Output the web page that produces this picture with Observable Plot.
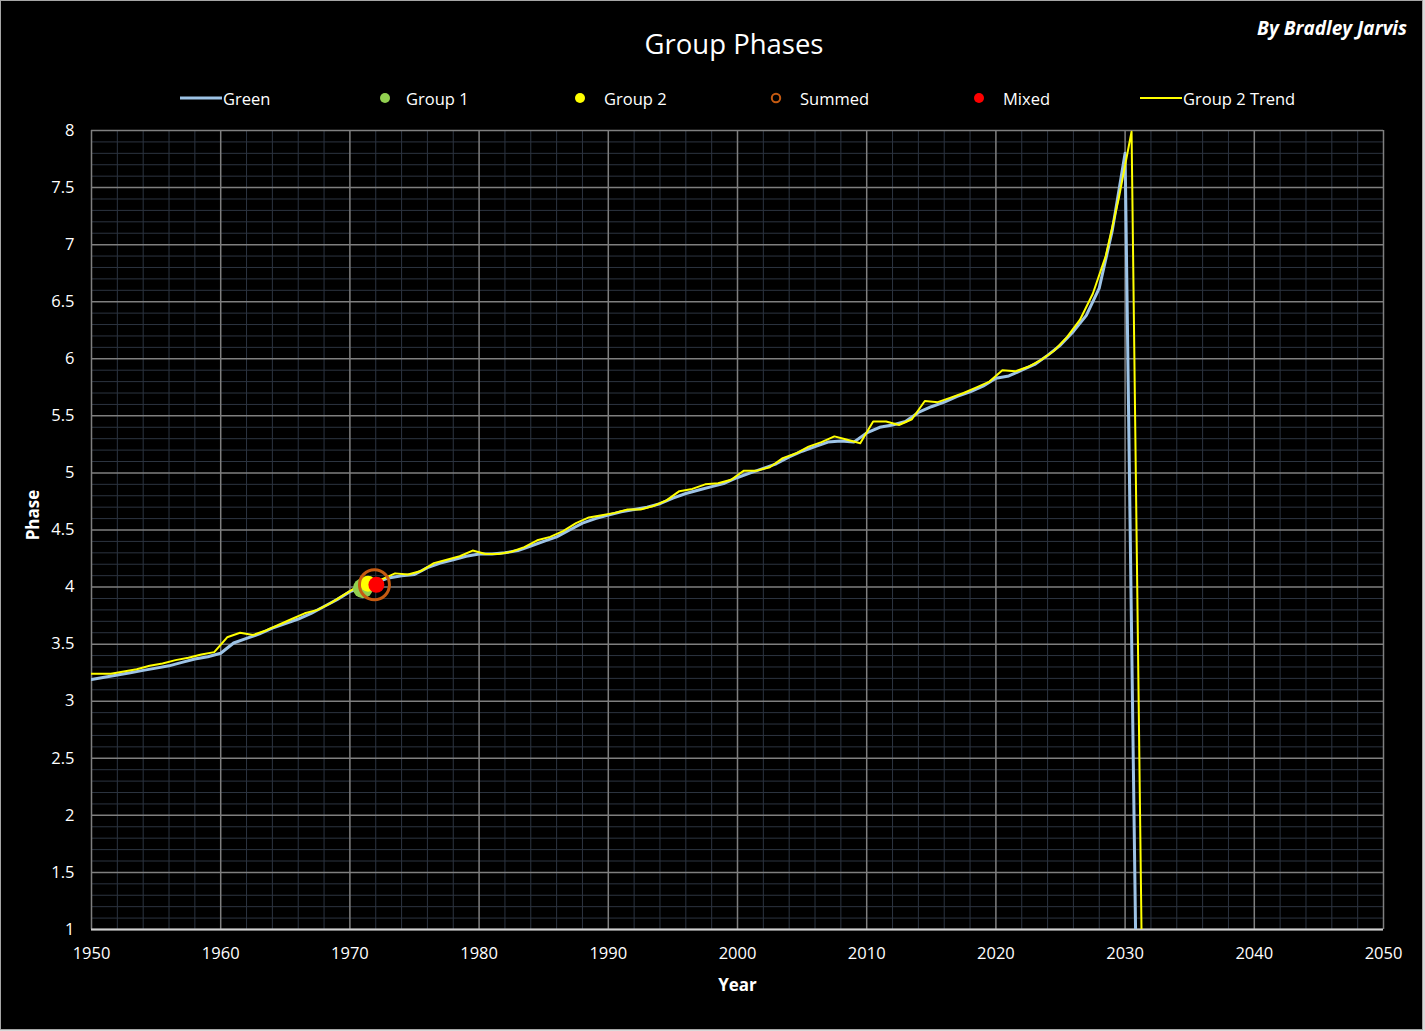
<!DOCTYPE html>
<html>
<head>
<meta charset="utf-8">
<script src="https://cdn.jsdelivr.net/npm/d3@7"></script>
<script src="https://cdn.jsdelivr.net/npm/@observablehq/plot@0.6"></script>
<style>
  html, body { margin: 0; padding: 0; background: #d9d9d9; }
  #wrap { position: relative; width: 1425px; height: 1031px; overflow: hidden; font-family: "Open Sans", sans-serif; color: #fff; }
  #chart { position: absolute; left: 0; top: 0; }
  #border { position: absolute; left: 0; top: 0; width: 1421px; height: 1028px; border: 1px solid #a6a6a6; pointer-events: none; }
  #title { position: absolute; left: 734px; top: 25px; transform: translateX(-50%); font-size: 27.5px; white-space: nowrap; line-height: 38px; }
  #byline { position: absolute; right: 18px; top: 15px; font-size: 19px; font-weight: bold; font-style: italic; white-space: nowrap; line-height: 26px; }
  .leg { position: absolute; top: 87px; height: 22px; display: flex; align-items: center; font-size: 16.5px; white-space: nowrap; }
  .leg svg { display: block; }
</style>
</head>
<body>
<div id="wrap">
  <div id="chart"></div>
  <div id="title">Group Phases</div>
  <div id="byline">By Bradley Jarvis</div>
  <div id="legend"></div>
  <div id="border"></div>
</div>
<script>
// ---- Data ----
const greenYears = d3.range(1950, 2032); // 1950..2031
const greenPhase = [
  3.19, 3.21, 3.23, 3.25, 3.27, 3.29, 3.31, 3.34, 3.37, 3.39,
  3.42, 3.51, 3.55, 3.59, 3.64, 3.68, 3.72, 3.77, 3.83, 3.89,
  3.96, 4.00, 4.04, 4.08, 4.10, 4.11, 4.17, 4.21, 4.24, 4.27,
  4.29, 4.29, 4.30, 4.32, 4.36, 4.40, 4.44, 4.50, 4.56, 4.60,
  4.63, 4.66, 4.68, 4.70, 4.73, 4.78, 4.82, 4.85, 4.88, 4.91,
  4.96, 5.00, 5.04, 5.08, 5.14, 5.19, 5.23, 5.27, 5.28, 5.27,
  5.35, 5.40, 5.42, 5.45, 5.53, 5.58, 5.62, 5.67, 5.71, 5.76,
  5.83, 5.85, 5.90, 5.95, 6.03, 6.12, 6.24, 6.38, 6.62, 7.12,
  7.80, -0.6
];
const trendYears = d3.range(1949.5, 2032, 1); // 1949.5..2031.5
const trendPhase = [
  3.24, 3.24, 3.24, 3.26, 3.28, 3.31, 3.33, 3.36, 3.38, 3.41,
  3.43, 3.56, 3.60, 3.58, 3.62, 3.67, 3.72, 3.77, 3.80, 3.86,
  3.93, 4.00, 4.03, 4.07, 4.12, 4.11, 4.14, 4.21, 4.24, 4.27,
  4.32, 4.29, 4.29, 4.31, 4.35, 4.41, 4.44, 4.49, 4.56, 4.61,
  4.63, 4.65, 4.68, 4.68, 4.71, 4.76, 4.84, 4.86, 4.90, 4.91,
  4.94, 5.02, 5.02, 5.05, 5.13, 5.17, 5.23, 5.27, 5.32, 5.29,
  5.26, 5.45, 5.45, 5.42, 5.47, 5.63, 5.62, 5.66, 5.70, 5.75,
  5.80, 5.90, 5.89, 5.93, 5.99, 6.07, 6.19, 6.34, 6.57, 6.90,
  7.40, 7.99, -1.1
];
const group1 = [{year: 1971.0, phase: 3.99}];
const group2 = [{year: 1971.4, phase: 4.03}];
const summed = [{year: 1971.9, phase: 4.02}];
const mixed  = [{year: 1972.05, phase: 4.02}];

const xTicks = d3.range(1950, 2051, 10);
const yTicks = d3.range(2, 17).map(d => d / 2);
const xMinor = d3.range(1950, 2051, 2).filter(d => d % 10 !== 0);
const yMinor = d3.range(10, 81).filter(d => d % 5 !== 0).map(d => d / 10);

const legendItems = ["Green", "Group 1", "Group 2", "Summed", "Mixed", "Group 2 Trend"];

// ---- Colors ----
const C = {
  green: "#9dc3e6", g1: "#92d050", g2: "#ffff00", summed: "#c55a11", mixed: "#ff0000", trend: "#ffff00",
  major: "#7f7f7f", minor: "#2c3440", axis: "#d0d0d0"
};

const greenData = greenYears.map((y, i) => ({year: y, phase: greenPhase[i]}));
const trendData = trendYears.map((y, i) => ({year: y, phase: trendPhase[i]}));

const chart = Plot.plot({
  width: 1423, height: 1030,
  marginLeft: 91, marginRight: 40, marginTop: 130, marginBottom: 101,
  style: {background: "#000", color: "#fff", fontFamily: "'Open Sans', sans-serif", fontSize: "16.5px"},
  x: {domain: [1950, 2050]},
  y: {domain: [1, 8]},
  marks: [
    Plot.ruleX(xMinor, {stroke: C.minor, strokeWidth: 1}),
    Plot.ruleY(yMinor, {stroke: C.minor, strokeWidth: 1}),
    Plot.ruleX(xTicks, {stroke: C.major, strokeWidth: 1.5}),
    Plot.ruleY(yTicks, {stroke: C.major, strokeWidth: 1.5}),
    Plot.ruleY([1], {stroke: C.axis, strokeWidth: 2}),
    Plot.axisX({ticks: xTicks, tickSize: 0, tickPadding: 18, tickFormat: "d", label: null, fontSize: 16.5}),
    Plot.axisY({ticks: yTicks, tickSize: 0, tickPadding: 17, tickFormat: d => String(d), label: null, fontSize: 16.5}),
    Plot.text(["Year"], {frameAnchor: "bottom", dy: 56, lineAnchor: "middle", textAnchor: "middle", fontWeight: "bold", fontSize: 17, fill: "#fff"}),
    Plot.text(["Phase"], {frameAnchor: "left", dx: -58, dy: -15, rotate: -90, textAnchor: "middle", lineAnchor: "middle", fontWeight: "bold", fontSize: 17, fill: "#fff"}),
    Plot.line(greenData, {x: "year", y: "phase", stroke: C.green, strokeWidth: 3, clip: true}),
    Plot.line(trendData, {x: "year", y: "phase", stroke: C.trend, strokeWidth: 2, clip: true}),
    Plot.dot(group1, {x: "year", y: "phase", r: 10, fill: C.g1}),
    Plot.dot(group2, {x: "year", y: "phase", r: 8, fill: C.g2}),
    Plot.dot(summed, {x: "year", y: "phase", r: 15, stroke: C.summed, strokeWidth: 3, fill: "none"}),
    Plot.dot(mixed, {x: "year", y: "phase", r: 8, fill: C.mixed})
  ]
});
document.getElementById("chart").appendChild(chart);

// ---- Legend ----
const swatch = {
  "Green": `<svg width="43" height="10"><line x1="0" x2="42" y1="5" y2="5" stroke="${C.green}" stroke-width="3"/></svg>`,
  "Group 1": `<svg width="27" height="12"><circle cx="6" cy="6" r="5" fill="${C.g1}"/></svg>`,
  "Group 2": `<svg width="30" height="12"><circle cx="6" cy="6" r="5" fill="${C.g2}"/></svg>`,
  "Summed": `<svg width="30" height="12"><circle cx="6" cy="6" r="4.2" fill="none" stroke="${C.summed}" stroke-width="2"/></svg>`,
  "Mixed": `<svg width="30" height="12"><circle cx="6" cy="6" r="5" fill="${C.mixed}"/></svg>`,
  "Group 2 Trend": `<svg width="43" height="10"><line x1="0" x2="42" y1="5" y2="5" stroke="${C.trend}" stroke-width="2"/></svg>`
};
const legendLeft = [180, 379, 574, 770, 973, 1140];
const legend = document.getElementById("legend");
legendItems.forEach((name, i) => {
  const d = document.createElement("div");
  d.className = "leg";
  d.style.left = legendLeft[i] + "px";
  d.innerHTML = swatch[name] + `<span>${name}</span>`;
  legend.appendChild(d);
});
</script>
</body>
</html>
